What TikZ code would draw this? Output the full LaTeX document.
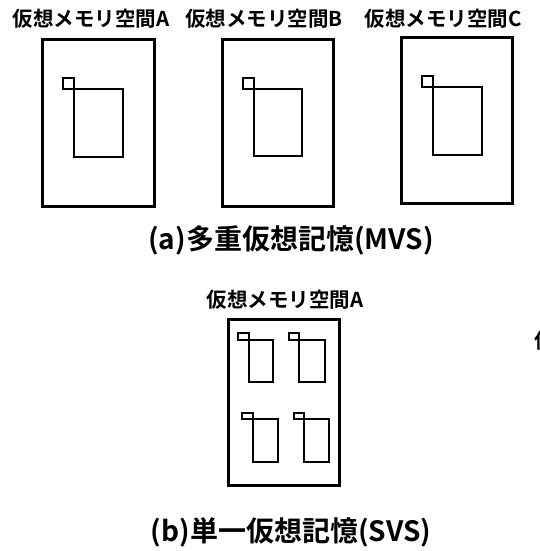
\documentclass[tikz,border=0pt]{standalone}
\usepackage{fontspec}
\newfontfamily\jp{Noto Sans CJK JP}[BoldFont={* Bold}]
\begin{document}
\begin{tikzpicture}[x=1pt,y=-1pt,
  outer/.style={draw=black,line width=3pt},
  inner/.style={draw=black,line width=1.3pt},
  title/.style={font=\jp\bfseries\fontsize{20.5}{20.5}\selectfont,inner sep=0pt,anchor=center},
  caption/.style={font=\jp\bfseries\fontsize{28}{28}\selectfont,inner sep=0pt,anchor=center}]
\useasboundingbox[fill=white] (0,0) rectangle (539,551);
% (a)
\node[title] (tA) at (91,19) {仮想メモリ空間A};
\node[title] (tB) at (264,19) {仮想メモリ空間B};
\node[title] (tC) at (443,19) {仮想メモリ空間C};
% box A
\draw[outer] (42,40) rectangle (154,206);
\draw[inner] (63,78) rectangle (74,89);
\draw[inner] (74,89) rectangle (123,157);
% box B
\draw[outer] (222,40) rectangle (333,206);
\draw[inner] (243,78) rectangle (254,89);
\draw[inner] (254,89) rectangle (302,156);
% box C
\draw[outer] (401,38) rectangle (512,203);
\draw[inner] (422,76) rectangle (433,87);
\draw[inner] (433,87) rectangle (482,155);
\node[caption] (capA) at (291,240) {(a)多重仮想記憶(MVS)};
% (b)
\node[title] (tS) at (285,300) {仮想メモリ空間A};
\draw[outer] (228,319) rectangle (339,485);
\draw[inner] (238,333) rectangle (249,340);
\draw[inner] (249,340) rectangle (273,382);
\draw[inner] (289,333) rectangle (299,340);
\draw[inner] (299,340) rectangle (325,382);
\draw[inner] (242,413) rectangle (253,419);
\draw[inner] (253,419) rectangle (278,462);
\draw[inner] (294,413) rectangle (304,419);
\draw[inner] (304,419) rectangle (329,462);
\node[caption] (capB) at (291,532) {(b)単一仮想記憶(SVS)};
\node[title,anchor=west] (frag) at (534,341) {仮};
\end{tikzpicture}
\end{document}
